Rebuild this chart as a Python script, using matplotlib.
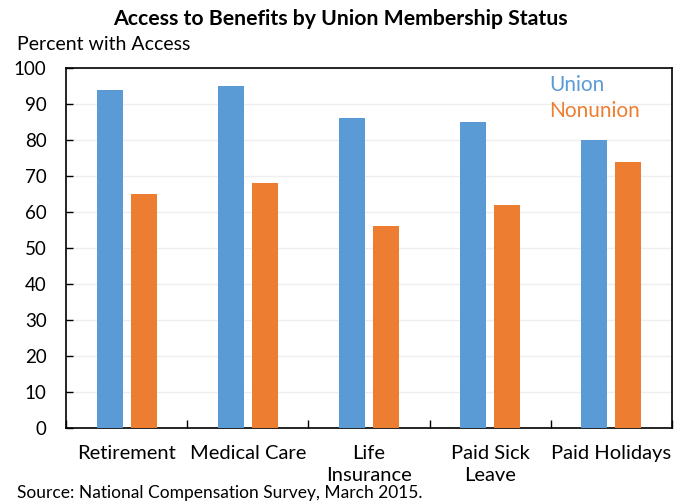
import matplotlib
matplotlib.use("Agg")
import matplotlib.pyplot as plt
import numpy as np

categories = ["Retirement", "Medical Care", "Life\nInsurance", "Paid Sick\nLeave", "Paid Holidays"]
union = [94, 95, 86, 85, 80]
nonunion = [65, 68, 56, 62, 74]
yticks = [0, 10, 20, 30, 40, 50, 60, 70, 80, 90, 100]

BLUE = "#5B9BD5"
ORANGE = "#ED7D31"
FONT = ["Lato", "DejaVu Sans"]
plt.rcParams['font.family'] = FONT

fig = plt.figure(figsize=(6.81, 5.03), dpi=100)
ax = fig.add_axes([66/681, 1-428/503, (672-66)/681, (428-68)/503])

x = np.arange(len(categories))
w = 0.215
ax.bar(x - 0.14, union, w, color=BLUE, zorder=3)
ax.bar(x + 0.14, nonunion, w, color=ORANGE, zorder=3)

ax.set_xlim(-0.5, len(categories) - 0.5)
ax.set_ylim(0, 100)
ax.set_yticks(yticks)
ax.tick_params(axis='y', direction='in', length=5, width=1, labelsize=13.5, pad=14)
ax.grid(axis='y', color='#eeeeee', linewidth=1, zorder=0)

ax.set_xticks(x)
ax.set_xticklabels(categories, fontsize=14.5, linespacing=1.4)
ax.tick_params(axis='x', which='major', length=0, pad=12)
ax.set_xticks(np.arange(-0.5, len(categories), 1.0), minor=True)
ax.tick_params(axis='x', which='minor', direction='in', length=6, width=1)

for s in ax.spines.values():
    s.set_color('black')
    s.set_linewidth(1.2)

ax.text(0.797, 0.953, "Union", transform=ax.transAxes, color=BLUE, fontsize=15, va='center', ha='left')
ax.text(0.797, 0.881, "Nonunion", transform=ax.transAxes, color=ORANGE, fontsize=15, va='center', ha='left')

fig.text(0.5, 1-19/503, "Access to Benefits by Union Membership Status", ha='center', va='center',
         fontsize=15.3, fontweight='bold')
fig.text(17/681, 1-45/503, "Percent with Access", ha='left', va='center', fontsize=14)
fig.text(17/681, 1-493/503, "Source: National Compensation Survey, March 2015.", ha='left', va='center', fontsize=12.5)

fig.savefig("out.png", dpi=100)
